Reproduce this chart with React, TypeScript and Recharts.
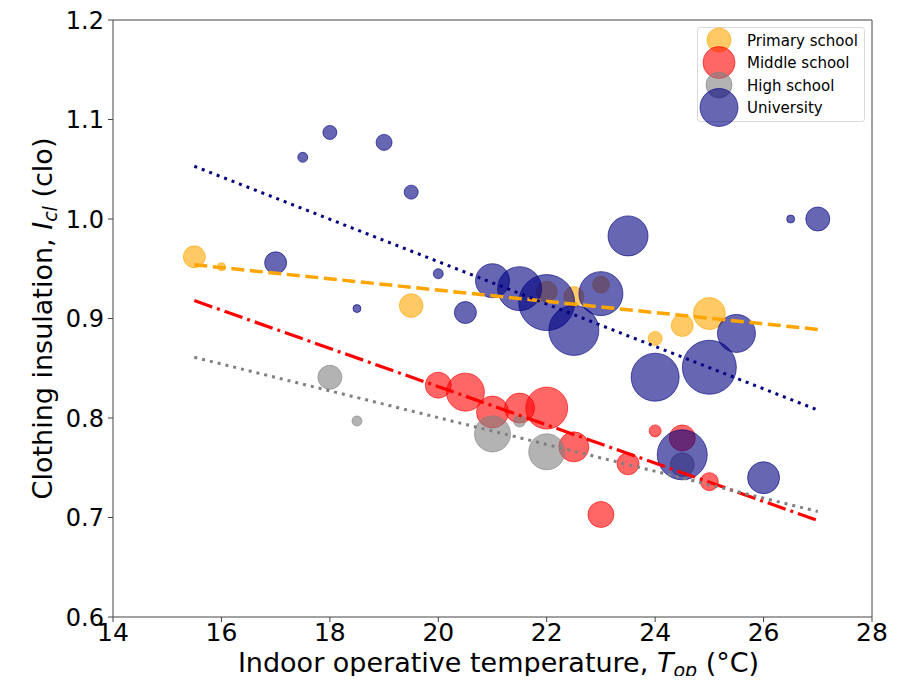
import React from 'react'
import {
  ScatterChart,
  Scatter,
  XAxis,
  YAxis,
  ZAxis,
  ReferenceLine,
  Label
} from 'recharts'

// bubble data: indoor operative temperature (t), clothing insulation (clo), sample size (n)
const primary = [
  { t: 15.5, clo: 0.962, n: 121 },
  { t: 16.0, clo: 0.952, n: 16 },
  { t: 19.5, clo: 0.913, n: 140 },
  { t: 22.0, clo: 0.927, n: 110 },
  { t: 22.5, clo: 0.922, n: 100 },
  { t: 23.0, clo: 0.934, n: 70 },
  { t: 24.0, clo: 0.880, n: 49 },
  { t: 24.5, clo: 0.893, n: 121 },
  { t: 25.0, clo: 0.905, n: 256 }
]

const middle = [
  { t: 20.0, clo: 0.833, n: 169 },
  { t: 20.5, clo: 0.826, n: 361 },
  { t: 21.0, clo: 0.806, n: 256 },
  { t: 21.5, clo: 0.810, n: 225 },
  { t: 22.0, clo: 0.810, n: 441 },
  { t: 22.5, clo: 0.771, n: 225 },
  { t: 23.0, clo: 0.703, n: 169 },
  { t: 23.5, clo: 0.754, n: 121 },
  { t: 24.0, clo: 0.787, n: 36 },
  { t: 24.5, clo: 0.780, n: 169 },
  { t: 25.0, clo: 0.736, n: 81 }
]

const high = [
  { t: 18.0, clo: 0.841, n: 144 },
  { t: 18.5, clo: 0.797, n: 25 },
  { t: 21.0, clo: 0.784, n: 324 },
  { t: 21.5, clo: 0.797, n: 36 },
  { t: 22.0, clo: 0.766, n: 324 },
  { t: 24.5, clo: 0.753, n: 144 }
]

const university = [
  { t: 17.0, clo: 0.956, n: 121 },
  { t: 17.5, clo: 1.062, n: 25 },
  { t: 18.0, clo: 1.087, n: 49 },
  { t: 18.5, clo: 0.910, n: 16 },
  { t: 19.0, clo: 1.077, n: 64 },
  { t: 19.5, clo: 1.027, n: 49 },
  { t: 20.0, clo: 0.945, n: 25 },
  { t: 20.5, clo: 0.906, n: 121 },
  { t: 21.0, clo: 0.938, n: 289 },
  { t: 21.5, clo: 0.930, n: 484 },
  { t: 22.0, clo: 0.916, n: 784 },
  { t: 22.5, clo: 0.888, n: 625 },
  { t: 23.0, clo: 0.925, n: 484 },
  { t: 23.5, clo: 0.983, n: 400 },
  { t: 24.0, clo: 0.841, n: 576 },
  { t: 24.5, clo: 0.763, n: 625 },
  { t: 25.0, clo: 0.851, n: 729 },
  { t: 25.5, clo: 0.885, n: 361 },
  { t: 26.0, clo: 0.740, n: 256 },
  { t: 26.5, clo: 1.000, n: 16 },
  { t: 27.0, clo: 1.000, n: 144 }
]

// linear fits, evaluated at the ends of the fitted range
const primaryFit = [{ t: 15.5, clo: 0.954 }, { t: 27, clo: 0.889 }]
const middleFit = [{ t: 15.5, clo: 0.918 }, { t: 27, clo: 0.697 }]
const highFit = [{ t: 15.5, clo: 0.861 }, { t: 27, clo: 0.706 }]
const universityFit = [{ t: 15.5, clo: 1.053 }, { t: 27, clo: 0.808 }]

const xTicks = [14, 16, 18, 20, 22, 24, 26, 28]
const yTicks = [0.6, 0.7, 0.8, 0.9, 1.0, 1.1, 1.2]

const legendItems = [
  { name: 'Primary school', color: '#FFA500', r: 12 },
  { name: 'Middle school', color: '#FF0000', r: 16 },
  { name: 'High school', color: '#808080', r: 13 },
  { name: 'University', color: '#000080', r: 19 }
]

const FONT = 'DejaVu Sans'
const AXIS = '#444'

const NoDot = () => <g />

function XTitle(props: any) {
  const vb = props.viewBox || {}
  const cx = vb.x + vb.width / 2 + 6
  return (
    <text x={cx} y={672} textAnchor="middle" fontSize={27} fontFamily={FONT} fill="#000">
      Indoor operative temperature, <tspan fontStyle="italic">T</tspan>
      <tspan fontStyle="italic" fontSize={19} dy={5}>op</tspan>
      <tspan dy={-5}> (°C)</tspan>
    </text>
  )
}

function YTitle(props: any) {
  const vb = props.viewBox || {}
  const cy = vb.y + vb.height / 2
  return (
    <text
      x={52}
      y={cy}
      transform={`rotate(-90, 52, ${cy})`}
      textAnchor="middle"
      fontSize={27}
      fontFamily={FONT}
      fill="#000"
    >
      Clothing insulation, <tspan fontStyle="italic">I</tspan>
      <tspan fontStyle="italic" fontSize={19} dy={5}>cl</tspan>
      <tspan dy={-5}> (clo)</tspan>
    </text>
  )
}

function LegendBox() {
  return (
    <svg
      width={190}
      height={115}
      style={{ position: 'absolute', left: 690, top: 20, overflow: 'visible' }}
    >
      <rect x={7.5} y={7.5} width={167} height={94} rx={3} fill="#fff" fillOpacity={0.8} stroke="#d9d9d9" />
      {legendItems.map((it, i) => {
        const cy = 20 + i * 22.5
        return (
          <g key={it.name}>
            <circle cx={29} cy={cy} r={it.r} fill={it.color} fillOpacity={0.6} stroke={it.color} strokeOpacity={0.6} />
            <text x={57} y={cy + 5.5} fontSize={15} fontFamily={FONT} fill="#000">
              {it.name}
            </text>
          </g>
        )
      })}
    </svg>
  )
}

export default function App() {
  const bubble = (color: string) => ({
    fill: color,
    fillOpacity: 0.6,
    stroke: color,
    strokeOpacity: 0.6,
    strokeWidth: 1
  })

  return (
    <div style={{ position: 'relative', width: 908, height: 684, margin: -8, background: '#fff' }}>
      <ScatterChart width={908} height={684} margin={{ top: 20, right: 36, bottom: 0, left: 0 }}>
        <XAxis
          dataKey="t"
          type="number"
          domain={[14, 28]}
          ticks={xTicks}
          interval={0}
          height={67}
          stroke={AXIS}
          tickSize={5}
          tickMargin={1}
          tick={{ fill: '#000', fontSize: 25, fontFamily: FONT }}
          label={<Label content={XTitle} />}
        />
        <YAxis
          dataKey="clo"
          type="number"
          domain={[0.6, 1.2]}
          ticks={yTicks}
          interval={0}
          width={113}
          stroke={AXIS}
          tickSize={5}
          tickMargin={4}
          tickFormatter={(v: number) => v.toFixed(1)}
          tick={{ fill: '#000', fontSize: 24, fontFamily: FONT }}
          label={<Label content={YTitle} />}
        />
        <ZAxis dataKey="n" type="number" domain={[0, 800]} range={[0, 800 * Math.PI]} />
        <ReferenceLine y={1.2} stroke={AXIS} />
        <ReferenceLine x={28} stroke={AXIS} />

        <Scatter name="Primary school" data={primary} {...bubble('#FFA500')} isAnimationActive={false} />
        <Scatter name="Middle school" data={middle} {...bubble('#FF0000')} isAnimationActive={false} />
        <Scatter name="High school" data={high} {...bubble('#808080')} isAnimationActive={false} />
        <Scatter name="University" data={university} {...bubble('#000080')} isAnimationActive={false} />

        <Scatter
          data={primaryFit}
          shape={NoDot}
          stroke="#FFA500"
          line={{ stroke: '#FFA500', strokeWidth: 3.5, strokeDasharray: '13 5.6' }}
          isAnimationActive={false}
        />
        <Scatter
          data={middleFit}
          shape={NoDot}
          stroke="#FF0000"
          line={{ stroke: '#FF0000', strokeWidth: 3.2, strokeDasharray: '19 5 3 5' }}
          isAnimationActive={false}
        />
        <Scatter
          data={highFit}
          shape={NoDot}
          stroke="#808080"
          line={{ stroke: '#808080', strokeWidth: 3, strokeDasharray: '3 5' }}
          isAnimationActive={false}
        />
        <Scatter
          data={universityFit}
          shape={NoDot}
          stroke="#000080"
          line={{ stroke: '#000080', strokeWidth: 3, strokeDasharray: '3 5' }}
          isAnimationActive={false}
        />
      </ScatterChart>
      <LegendBox />
    </div>
  )
}
